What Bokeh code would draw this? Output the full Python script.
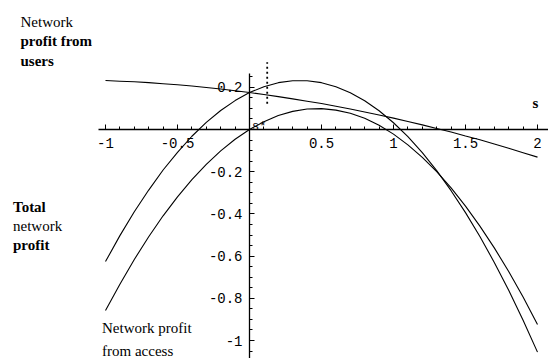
from bokeh.plotting import figure
from bokeh.models import LinearAxis, FixedTicker, Range1d, Label
from bokeh.embed import file_html
from bokeh.resources import INLINE

# ---- data ----
s_values = [-1.0, -0.9, -0.8, -0.7, -0.6, -0.5, -0.4, -0.3, -0.2, -0.1, 0.0,
            0.1, 0.2, 0.3, 0.4, 0.5, 0.6, 0.7, 0.8, 0.9, 1.0,
            1.1, 1.2, 1.3, 1.4, 1.5, 1.6, 1.7, 1.8, 1.9, 2.0]
profit_users = [0.232, 0.229, 0.226, 0.222, 0.217, 0.212, 0.206, 0.199, 0.192, 0.184, 0.175,
                0.166, 0.156, 0.145, 0.134, 0.123, 0.110, 0.097, 0.083, 0.069, 0.054,
                0.038, 0.022, 0.005, -0.012, -0.031, -0.049, -0.069, -0.089, -0.110, -0.131]
profit_access = [-0.858, -0.733, -0.616, -0.508, -0.409, -0.319, -0.238, -0.165, -0.101, -0.046, 0.0,
                 0.037, 0.066, 0.086, 0.097, 0.099, 0.092, 0.077, 0.053, 0.020, -0.022,
                 -0.073, -0.132, -0.200, -0.277, -0.363, -0.458, -0.561, -0.673, -0.794, -0.924]
profit_total = [-0.626, -0.503, -0.390, -0.287, -0.192, -0.108, -0.032, 0.034, 0.090, 0.137, 0.175,
                0.203, 0.222, 0.231, 0.231, 0.222, 0.203, 0.174, 0.136, 0.089, 0.032,
                -0.034, -0.110, -0.195, -0.290, -0.394, -0.507, -0.630, -0.762, -0.904, -1.055]
s_star_line_x = [0.123]
s_star_line_y0 = [0.122]
s_star_line_y1 = [0.319]

x_ticks = [-1.0, -0.5, 0.5, 1.0, 1.5, 2.0]
x_tick_labels = ["-1", "-0.5", "0.5", "1", "1.5", "2"]
y_ticks = [-1.0, -0.8, -0.6, -0.4, -0.2, 0.2]
y_tick_labels = ["-1", "-0.8", "-0.6", "-0.4", "-0.2", "0.2"]

# ---- layout ----
W, H = 548, 358
X0 = -249 / 144
X1 = X0 + W / 144
Y1 = 129 / 211
Y0 = Y1 - H / 211


def px_x(px):
    return X0 + px / W * (X1 - X0)


def px_y(py):
    return Y1 - py / H * (Y1 - Y0)


x_minor = [round(-1.0 + 0.1 * i, 2) for i in range(31)]
y_minor = [round(-1.05 + 0.05 * i, 2) for i in range(27)]

p = figure(width=W, height=H, x_range=Range1d(X0, X1), y_range=Range1d(Y0, Y1),
           output_backend="svg", toolbar_location=None,
           x_axis_type=None, y_axis_type=None, min_border=0)
p.outline_line_color = None
p.background_fill_color = "white"
p.border_fill_color = "white"

tick_font = "Liberation Mono"

xaxis = LinearAxis(fixed_location=0,
                   ticker=FixedTicker(ticks=x_ticks, minor_ticks=x_minor),
                   bounds=(-1.05, X1),
                   major_label_overrides={t: l for t, l in zip(x_ticks, x_tick_labels)},
                   major_tick_in=5, major_tick_out=0, minor_tick_in=3, minor_tick_out=0,
                   axis_line_width=1.3, major_tick_line_width=1, minor_tick_line_width=1,
                   major_label_text_font=tick_font, major_label_text_font_size="14px",
                   major_label_text_color="black", major_label_standoff=8)
p.add_layout(xaxis, "below")

yaxis = LinearAxis(fixed_location=0,
                   ticker=FixedTicker(ticks=y_ticks, minor_ticks=y_minor),
                   bounds=(-1.09, 0.265),
                   major_label_overrides={t: l for t, l in zip(y_ticks, y_tick_labels)},
                   major_tick_in=5, major_tick_out=0, minor_tick_in=3, minor_tick_out=0,
                   axis_line_width=1.3, major_tick_line_width=1, minor_tick_line_width=1,
                   major_label_text_font=tick_font, major_label_text_font_size="14px",
                   major_label_text_color="black", major_label_standoff=7)
p.add_layout(yaxis, "left")

for series in (profit_users, profit_access, profit_total):
    p.line(s_values, series, line_color="black", line_width=1.1)

p.segment(x0=s_star_line_x, y0=s_star_line_y0, x1=s_star_line_x, y1=s_star_line_y1,
          line_color="black", line_width=1.8, line_dash="2 3")

serif = "Liberation Serif"
texts = [
    ("Network", 20, 21.7, "normal", serif, "15px"),
    ("profit from", 20, 40.5, "bold", serif, "15px"),
    ("users", 20, 60.5, "bold", serif, "15px"),
    ("Total", 12.5, 206.5, "bold", serif, "15px"),
    ("network", 12.5, 225.5, "normal", serif, "15px"),
    ("profit", 12.5, 244.5, "bold", serif, "15px"),
    ("Network profit", 101.5, 327, "normal", serif, "15px"),
    ("from access", 101.5, 350, "normal", serif, "15px"),
    ("s", 532, 102, "bold", serif, "15px"),
    ("s*", 251.5, 126, "normal", tick_font, "12px"),
]
for txt, px, py, style, font, size in texts:
    p.add_layout(Label(x=px_x(px), y=px_y(py), text=txt, text_font=font,
                       text_font_size=size, text_font_style=style, text_color="black",
                       text_align="left", text_baseline="alphabetic"))

open("out.html", "w").write(file_html(p, INLINE))
